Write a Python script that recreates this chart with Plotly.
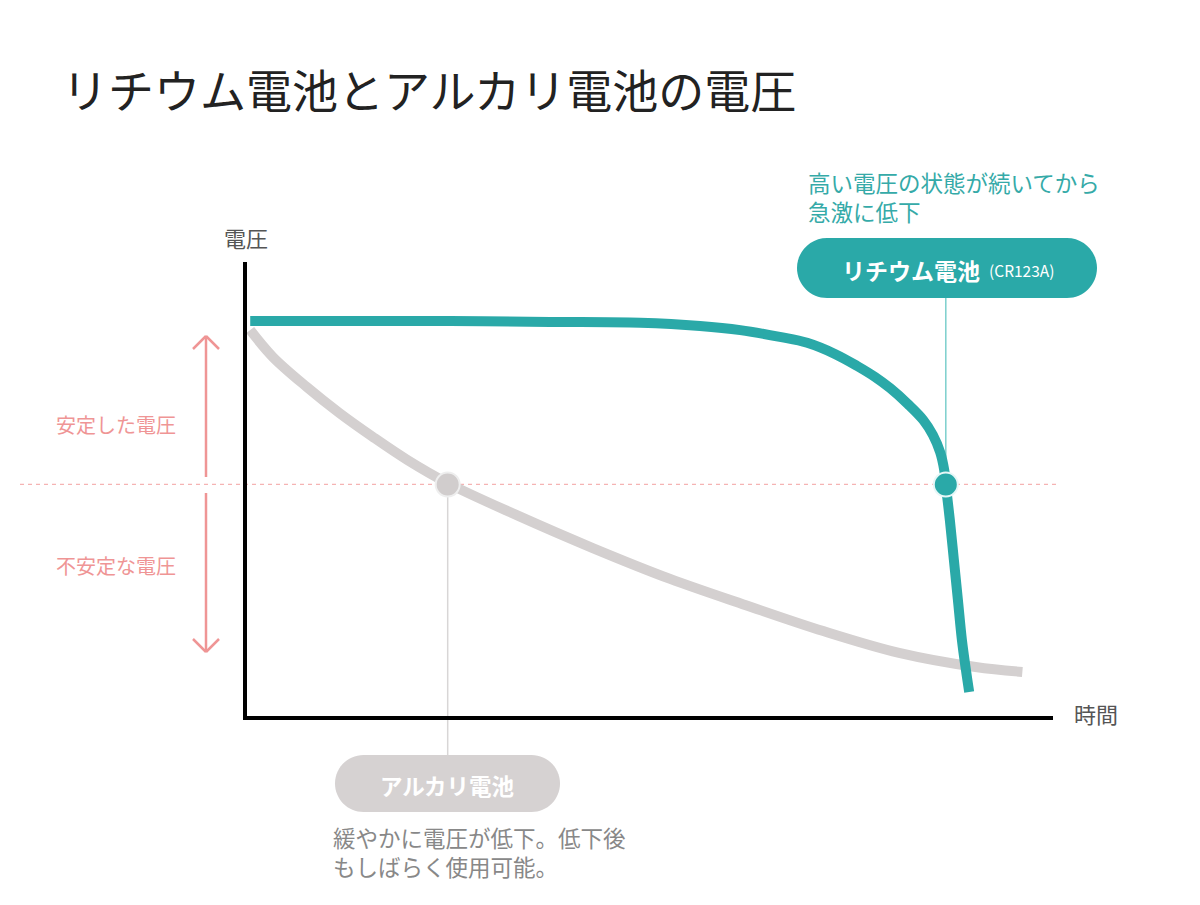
#!/usr/bin/env python
"""
Lithium vs alkaline battery voltage curve (conceptual chart)
"""

import plotly.graph_objs as go

FONT = "Noto Sans CJK JP"
TEAL = "#2aa9a8"
GREY = "#d4d0d0"
PINK = "#ef9595"

# data: time (0-100) vs voltage (0-100, arbitrary scale)
lithium_time = [0.4, 12.8, 25.2, 37.6, 48.8, 56.2, 61.2, 66.1, 69.5, 73.0, 75.7, 77.9, 79.8,
                82.0, 83.9, 85.1, 86.0, 86.5, 86.7, 87.2, 87.7, 88.2, 88.7, 89.2, 89.6]
lithium_volt = [87.0, 87.0, 87.0, 86.8, 86.6, 85.9, 85.0, 83.5, 82.2, 79.7, 77.1, 74.7, 72.2,
                68.7, 65.2, 61.9, 58.1, 54.2, 50.9, 43.2, 34.4, 25.6, 16.7, 10.1, 5.3]

alkaline_time = [0.4, 3.2, 7.4, 11.5, 15.6, 19.9, 24.9, 33.4, 42.9, 52.5, 61.9, 71.5, 80.9, 90.4, 96.2]
alkaline_volt = [85.0, 79.1, 72.5, 66.7, 61.5, 56.4, 51.3, 44.3, 37.0, 30.2, 24.4, 18.7, 13.9, 10.8, 9.7]

# points where each battery crosses the stable/unstable threshold
lithium_mark = (86.7, 51.0)
alkaline_mark = (24.9, 51.0)
threshold = 51.0

title_text = "リチウム電池とアルカリ電池の電圧"
lithium_label = "リチウム電池"
lithium_model = "(CR123A)"
lithium_note = "高い電圧の状態が続いてから<br>急激に低下"
alkaline_label = "アルカリ電池"
alkaline_note = "緩やかに電圧が低下。低下後<br>もしばらく使用可能。"
stable_label = "安定した電圧"
unstable_label = "不安定な電圧"
y_label = "電圧"
x_label = "時間"

# plot area in page pixels (page has an 8px body margin)
PAD = 8
L, R, T, B = 247, 1053, 262, 716


def px(x):
    return (x - L) / (R - L)


def py(y):
    return (B - y) / (B - T)


def pill(x0, y0, x1, y1):
    """rounded pill path in paper coords from pixel box"""
    r = (y1 - y0) / 2.0
    k = 0.5523 * r
    pts = [
        ("M", [(x0 + r, y0)]),
        ("L", [(x1 - r, y0)]),
        ("C", [(x1 - r + k, y0), (x1, y0 + r - k), (x1, y0 + r)]),
        ("C", [(x1, y0 + r + k), (x1 - r + k, y1), (x1 - r, y1)]),
        ("L", [(x0 + r, y1)]),
        ("C", [(x0 + r - k, y1), (x0, y0 + r + k), (x0, y0 + r)]),
        ("C", [(x0, y0 + r - k), (x0 + r - k, y0), (x0 + r, y0)]),
    ]
    path = ""
    for cmd, coords in pts:
        path += cmd + " ".join("{:.5f},{:.5f}".format(px(a), py(b)) for a, b in coords) + " "
    return path + "Z"


def seg(x0, y0, x1, y1, color, width, dash="solid"):
    return dict(type="line", xref="paper", yref="paper",
                x0=px(x0), y0=py(y0), x1=px(x1), y1=py(y1),
                line=dict(color=color, width=width, dash=dash), layer="below")


def text(x, y, s, size, color, xanchor="left", bold=False):
    return dict(x=px(x), y=py(y), xref="paper", yref="paper", text=s,
                showarrow=False, xanchor=xanchor, yanchor="middle", align="left",
                font=dict(family=FONT, size=size, color=color,
                          weight="bold" if bold else "normal"))


fig = go.Figure()
fig.add_trace(go.Scatter(x=alkaline_time, y=alkaline_volt, mode="lines",
                         line=dict(color=GREY, width=10, shape="spline", smoothing=1.0),
                         name="alkaline"))
fig.add_trace(go.Scatter(x=lithium_time, y=lithium_volt, mode="lines",
                         line=dict(color=TEAL, width=10, shape="spline", smoothing=1.0),
                         name="lithium"))
fig.add_trace(go.Scatter(x=[alkaline_mark[0]], y=[alkaline_mark[1]], mode="markers",
                         marker=dict(size=24, color="#d1cdcd", line=dict(color="#eeeeee", width=2)),
                         cliponaxis=False))
fig.add_trace(go.Scatter(x=[lithium_mark[0]], y=[lithium_mark[1]], mode="markers",
                         marker=dict(size=24, color=TEAL, line=dict(color="#e6f7f7", width=2)),
                         cliponaxis=False))

thr_px = B - threshold / 100.0 * (B - T)
lx = L + lithium_mark[0] / 100.0 * (R - L)
ax = L + alkaline_mark[0] / 100.0 * (R - L)

shapes = [
    # threshold dashed line
    seg(20, thr_px, 1058, thr_px, "#f5b3b3", 1.3, "4px,4px"),
    # connectors
    seg(lx, 298, lx, thr_px, "#7ccfcd", 1.5),
    seg(ax, thr_px, ax, 756, "#d8d6d6", 1.5),
    # pink arrows
    seg(206, 477, 206, 336, PINK, 2.5),
    seg(193, 349, 206, 336, PINK, 2.5),
    seg(219, 349, 206, 336, PINK, 2.5),
    seg(206, 493, 206, 652, PINK, 2.5),
    seg(193, 639, 206, 652, PINK, 2.5),
    seg(219, 639, 206, 652, PINK, 2.5),
    # pills
    dict(type="path", xref="paper", yref="paper", path=pill(797, 238, 1097, 298),
         fillcolor=TEAL, line=dict(width=0)),
    dict(type="path", xref="paper", yref="paper", path=pill(335, 755, 560, 812),
         fillcolor="#d6d2d2", line=dict(width=0)),
]

annotations = [
    text(60, 88, title_text, 46, "#222222"),
    text(246, 237, y_label, 22, "#555555", xanchor="center"),
    text(1072, 713, x_label, 22, "#555555"),
    text(116, 424, stable_label, 20, PINK, xanchor="center"),
    text(116, 565, unstable_label, 20, PINK, xanchor="center"),
    text(806, 196, lithium_note, 22.5, "#35aaa8"),
    text(840, 270, lithium_label, 23, "white", bold=True),
    text(987, 270, lithium_model, 15.5, "white"),
    text(447, 785, alkaline_label, 22.5, "white", xanchor="center", bold=True),
    text(331, 851, alkaline_note, 22.5, "#888888"),
]

fig.update_layout(
    width=1200, height=905,
    margin=dict(l=L - PAD, r=1200 - R + PAD, t=T - PAD, b=905 - B + PAD),
    paper_bgcolor="white", plot_bgcolor="white",
    showlegend=False,
    shapes=shapes,
    annotations=annotations,
)
fig.update_xaxes(range=[0, 100], showline=True, linecolor="black", linewidth=4,
                 showgrid=False, zeroline=False, showticklabels=False, ticks="")
fig.update_yaxes(range=[0, 100], showline=True, linecolor="black", linewidth=4,
                 showgrid=False, zeroline=False, showticklabels=False, ticks="")

fig.write_html("out.html")
